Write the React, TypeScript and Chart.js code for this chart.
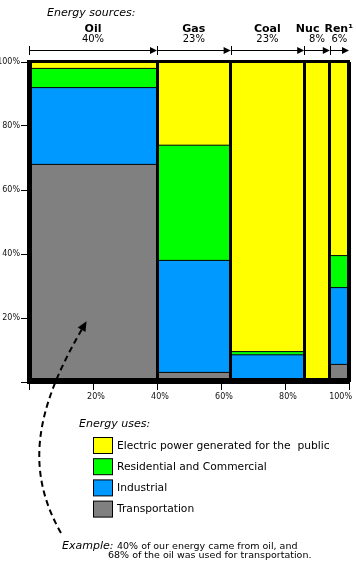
import React, { useEffect, useRef } from 'react';
import { Chart, registerables } from 'chart.js';

Chart.register(...registerables);

// ---------- data ----------
const sources = ['Oil', 'Gas', 'Coal', 'Nuc', 'Ren\u00B9'];
const sourceShares = [40, 23, 23, 8, 6];

const useNames = [
  'Transportation',
  'Industrial',
  'Residential and Commercial',
  'Electric power generated for the  public',
];
const transportation = [68, 3, 0, 0, 5.5];
const industrial = [24, 35, 8.5, 0, 24];
const residential = [6, 36, 1, 0, 10];
const electric = [2, 26, 90.5, 100, 60.5];
const useColors = ['#808080', '#0099FF', '#00FF00', '#FFFF00'];

const axisTicks = [0, 20, 40, 60, 80, 100];

const exampleLine1 = '40% of our energy came from oil, and';
const exampleLine2 = '68% of the oil was used for transportation.';
const exampleAnchor = { x: 18, y: 19 };

// ---------- derived ----------
const columnStarts: number[] = [];
{
  let acc = 0;
  for (const s of sourceShares) {
    columnStarts.push(acc);
    acc += s;
  }
}
const boundaries = [...columnStarts, 100];
const seriesList = [transportation, industrial, residential, electric];

const cumulative = seriesList.map((_, j) =>
  sources.map((__, i) => {
    let s = 0;
    for (let k = 0; k <= j; k++) s += seriesList[k][i];
    return Math.min(100, s);
  })
);

const FONT = '"DejaVu Sans", Verdana, sans-serif';

const decorPlugin = {
  id: 'decor',
  afterDraw(chart: any) {
    const { ctx, chartArea, scales } = chart;
    const xs = scales.x;
    const ys = scales.y;
    const { left, right, top, bottom } = chartArea;
    ctx.save();

    // frame
    ctx.strokeStyle = '#000';
    ctx.lineWidth = 3;
    ctx.strokeRect(left, top - 0.5, right - left - 0.5, bottom - top);
    ctx.lineWidth = 5;
    ctx.beginPath();
    ctx.moveTo(left + 0.5, top - 2);
    ctx.lineTo(left + 0.5, bottom + 2);
    ctx.stroke();
    ctx.lineWidth = 6;
    ctx.beginPath();
    ctx.moveTo(left - 2, bottom - 1);
    ctx.lineTo(right + 1, bottom - 1);
    ctx.stroke();

    // header
    ctx.fillStyle = '#000';
    ctx.textBaseline = 'alphabetic';
    ctx.textAlign = 'left';
    ctx.font = `italic 11px ${FONT}`;
    ctx.fillText('Energy sources:', 47, 16);

    const centers = sources.map((_, i) =>
      (xs.getPixelForValue(boundaries[i]) + xs.getPixelForValue(boundaries[i + 1])) / 2
    );
    // names
    ctx.font = `bold 11px ${FONT}`;
    let limit = 353;
    const nameX: number[] = [];
    for (let i = sources.length - 1; i >= 0; i--) {
      const w = ctx.measureText(sources[i]).width;
      let x = centers[i];
      if (x + w / 2 > limit) x = limit - w / 2;
      nameX[i] = x;
      limit = x - w / 2 - 5;
    }
    ctx.textAlign = 'center';
    sources.forEach((s, i) => ctx.fillText(s, nameX[i], 32));
    // percents
    ctx.font = `10px ${FONT}`;
    limit = 353;
    const pctX: number[] = [];
    for (let i = sources.length - 1; i >= 0; i--) {
      const t = sourceShares[i] + '%';
      const w = ctx.measureText(t).width;
      let x = centers[i];
      if (x + w / 2 > limit) x = limit - w / 2;
      pctX[i] = x;
      limit = x - w / 2 - 4;
    }
    sources.forEach((_, i) => ctx.fillText(sourceShares[i] + '%', pctX[i], 42));

    // arrows row
    const ay = 50.5;
    ctx.lineWidth = 1;
    sources.forEach((_, i) => {
      const x0 = xs.getPixelForValue(boundaries[i]);
      const x1 = xs.getPixelForValue(boundaries[i + 1]);
      ctx.beginPath();
      ctx.moveTo(Math.round(x0) + 0.5, ay - 4.5);
      ctx.lineTo(Math.round(x0) + 0.5, ay + 4.5);
      ctx.moveTo(x0, ay);
      ctx.lineTo(x1 - 6, ay);
      ctx.stroke();
      ctx.beginPath();
      ctx.moveTo(x1, ay);
      ctx.lineTo(x1 - 7, ay - 3.5);
      ctx.lineTo(x1 - 7, ay + 3.5);
      ctx.closePath();
      ctx.fill();
    });

    // legend
    ctx.textAlign = 'left';
    ctx.font = `italic 11px ${FONT}`;
    ctx.fillText('Energy uses:', 79, 427);
    ctx.font = `10.7px ${FONT}`;
    ctx.textBaseline = 'middle';
    for (let r = 0; r < useNames.length; r++) {
      const j = useNames.length - 1 - r;
      const by = 437.5 + r * 21.2;
      ctx.fillStyle = useColors[j];
      ctx.fillRect(93.5, by, 19, 16);
      ctx.strokeStyle = '#000';
      ctx.lineWidth = 1;
      ctx.strokeRect(93.5, by, 19, 16);
      ctx.fillStyle = '#000';
      ctx.fillText(useNames[j], 117, by + 8.5);
    }

    // example text
    ctx.textBaseline = 'alphabetic';
    ctx.font = `italic 11px ${FONT}`;
    ctx.fillText('Example:', 62, 549);
    ctx.font = `9.5px ${FONT}`;
    ctx.fillText(exampleLine1, 117, 549);
    ctx.fillText(exampleLine2, 108, 558);

    // dashed curved arrow
    const tipX = xs.getPixelForValue(exampleAnchor.x);
    const tipY = ys.getPixelForValue(exampleAnchor.y);
    const c2x = 35, c2y = 410;
    let dx = tipX - c2x, dy = tipY - c2y;
    const len = Math.hypot(dx, dy);
    dx /= len; dy /= len;
    const headLen = 10, headHalf = 4.5;
    const baseX = tipX - dx * headLen, baseY = tipY - dy * headLen;
    ctx.strokeStyle = '#000';
    ctx.lineWidth = 2;
    ctx.setLineDash([6, 4]);
    ctx.beginPath();
    ctx.moveTo(61, 533);
    ctx.bezierCurveTo(25, 470, c2x, c2y, baseX, baseY);
    ctx.stroke();
    ctx.setLineDash([]);
    ctx.beginPath();
    ctx.moveTo(tipX, tipY);
    ctx.lineTo(baseX - dy * headHalf, baseY + dx * headHalf);
    ctx.lineTo(baseX + dy * headHalf, baseY - dx * headHalf);
    ctx.closePath();
    ctx.fill();

    ctx.restore();
  },
};

export default function App() {
  const canvasRef = useRef<HTMLCanvasElement | null>(null);

  useEffect(() => {
    if (!canvasRef.current) return;
    const n = sources.length;
    const datasets = seriesList.map((_, j) => ({
      label: useNames[j],
      data: [
        ...columnStarts.map((x, i) => ({ x, y: cumulative[j][i] })),
        { x: 100, y: cumulative[j][n - 1] },
      ],
      stepped: 'before' as const,
      fill: j === 0 ? 'origin' : '-1',
      backgroundColor: useColors[j],
      borderColor: '#000',
      borderWidth: 1,
      pointRadius: 0,
      tension: 0,
    }));

    const chart = new Chart(canvasRef.current, {
      type: 'line',
      data: { datasets },
      plugins: [decorPlugin],
      options: {
        animation: false,
        responsive: false,
        devicePixelRatio: 1,
        layout: { padding: { top: 62, right: 7, bottom: 152, left: 0 } },
        plugins: {
          legend: { display: false },
          tooltip: { enabled: false },
        },
        scales: {
          x: {
            type: 'linear',
            position: 'bottom',
            min: 0,
            max: 100,
            afterBuildTicks: (axis: any) => {
              axis.ticks = axisTicks.map((v) => ({ value: v }));
            },
            afterFit: (s: any) => {
              s.height = 30;
            },
            ticks: {
              callback: (v: any) => (v === 0 ? '' : v + '%'),
              color: '#111',
              font: { family: FONT, size: 8 },
              align: 'inner',
              labelOffset: 3,
              padding: 2,
              maxRotation: 0,
              autoSkip: false,
            },
            grid: {
              drawOnChartArea: false,
              drawTicks: true,
              tickLength: 8,
              color: '#000',
            },
            border: { display: false },
          },
          x2: {
            type: 'linear',
            axis: 'x',
            position: 'top',
            min: 0,
            max: 100,
            afterBuildTicks: (axis: any) => {
              axis.ticks = boundaries.map((v) => ({ value: v }));
            },
            afterFit: (s: any) => {
              s.height = 0;
            },
            ticks: { display: false },
            grid: {
              z: 1,
              drawOnChartArea: true,
              drawTicks: false,
              color: '#000',
              lineWidth: 3,
            },
            border: { display: false },
          },
          y: {
            type: 'linear',
            min: 0,
            max: 100,
            afterBuildTicks: (axis: any) => {
              axis.ticks = axisTicks.map((v) => ({ value: v }));
            },
            afterFit: (s: any) => {
              s.width = 29;
            },
            ticks: {
              callback: (v: any) => (v === 0 ? '' : v + '%'),
              color: '#111',
              font: { family: FONT, size: 8 },
              padding: 1,
            },
            grid: {
              drawOnChartArea: false,
              drawTicks: true,
              tickLength: 8,
              color: '#000',
            },
            border: { display: false },
          },
        },
      } as any,
    });
    return () => chart.destroy();
  }, []);

  return (
    <div style={{ position: 'absolute', left: 0, top: 0, width: 356, height: 564, background: '#fff' }}>
      <canvas ref={canvasRef} width={356} height={564} style={{ display: 'block' }} />
    </div>
  );
}
